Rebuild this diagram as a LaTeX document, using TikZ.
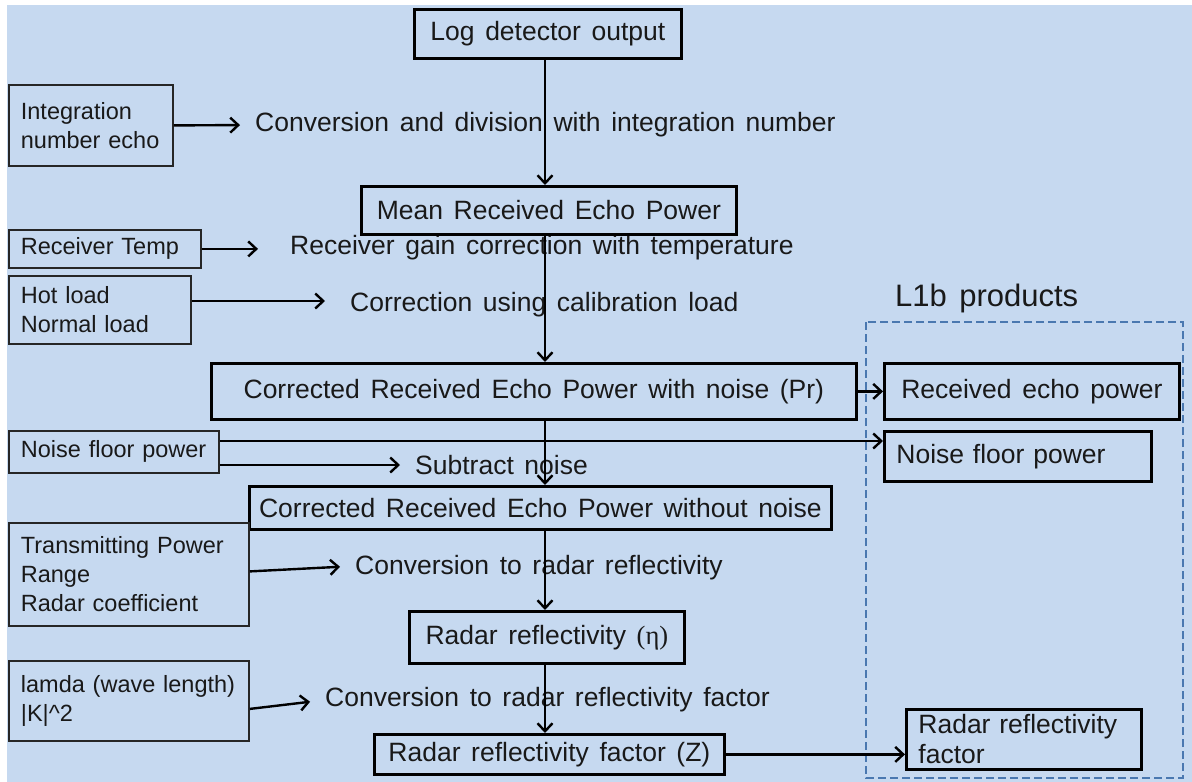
\documentclass[tikz,border=0pt]{standalone}
\usepackage{fontspec}
\setmainfont{Liberation Sans}
\newfontfamily\serifgreek{Liberation Serif}
\usetikzlibrary{arrows.meta,calc}
\definecolor{bgblue}{HTML}{C6D9F0}
\definecolor{dashblue}{HTML}{4A78B0}
\newcommand\bigtxt{\fontsize{26.5}{31}\selectfont\spaceskip=0.4em\relax}
\newcommand\rzftxt{\fontsize{26.5}{30}\selectfont\spaceskip=0.4em\relax}
\newcommand\smalltxt{\fontsize{23.5}{29}\selectfont\spaceskip=0.35em\relax}
\newcommand\titletxt{\fontsize{31}{36}\selectfont\spaceskip=0.4em\relax}
\tikzset{
  box/.style={draw=black, line width=2.8pt, inner sep=0pt, anchor=north west, font=\bigtxt, text=black!90},
  lbox/.style={draw=black!85, line width=1.8pt, inner xsep=12pt, inner ysep=0pt, anchor=north west, align=left, font=\smalltxt, text=black!90},
  lbl/.style={inner sep=0pt, anchor=west, font=\bigtxt, text=black!90},
  arr/.style={line width=2.4pt, -{Straight Barb[length=8pt,width=15pt,line width=2.4pt]}},
}
\begin{document}
\begin{tikzpicture}[x=1pt,y=-1pt]
\useasboundingbox (0,0) rectangle (1192,782);
\fill[white] (0,0) rectangle (1192,782);
\fill[bgblue] (7,5) rectangle (1192,782);
% labels
\node[lbl] (conv1) at (255,125) {Conversion and division with integration number};
\node[lbl] (rgain) at (290,248) {Receiver gain correction with temperature};
\node[lbl] (corr) at (350,305) {Correction using calibration load};
\node[lbl, font=\titletxt] (l1b) at (895,298) {L1b products};
\node[lbl] (sub) at (415,465) {Subtract noise};
\node[lbl] (conv2) at (355,568) {Conversion to radar reflectivity};
\node[lbl] (conv3) at (325,700) {Conversion to radar reflectivity factor};
% dashed group
\draw[dashblue, line width=2pt, dash pattern=on 8pt off 4pt] (866,322) rectangle (1183,778);
% main boxes
\node[box, minimum width=267, minimum height=49] (log) at (413,8) {Log detector output};
\node[box, minimum width=375, minimum height=48] (mean) at (360,185) {Mean Received Echo Power};
\node[box, minimum width=645, minimum height=56] (pr) at (210,362) {Corrected Received Echo Power with noise (Pr)};
\node[box, minimum width=295, minimum height=56] (rec) at (883,362) {Received echo power};
\node[box, minimum width=267, minimum height=50, text width=243, align=left] (noiser) at (883,430) {Noise floor power};
\node[box, minimum width=582, minimum height=43] (wo) at (248,485) {Corrected Received Echo Power without noise};
\node[box, minimum width=275, minimum height=52] (eta) at (408,610) {Radar reflectivity {\serifgreek (η)}};
\node[box, minimum width=350, minimum height=40] (z) at (373,733) {Radar reflectivity factor (Z)};
\node[box, minimum width=235, minimum height=60, text width=211, align=left, font=\rzftxt] (rzf) at (905,708) {Radar reflectivity\\factor};
% input boxes
\node[lbox, minimum width=164, minimum height=81, text width=140] (integ) at (8,84) {Integration\\number echo};
\node[lbox, minimum width=192, minimum height=38, text width=168] (rtemp) at (8,229) {Receiver Temp};
\node[lbox, minimum width=182, minimum height=68, text width=158] (hot) at (8,275) {Hot load\\Normal load};
\node[lbox, minimum width=210, minimum height=42, text width=186] (noisel) at (8,430) {Noise floor power};
\node[lbox, minimum width=240, minimum height=103, text width=216] (trans) at (8,522) {Transmitting Power\\Range\\Radar coefficient};
\node[lbox, minimum width=240, minimum height=80, text width=216] (lam) at (8,660) {lamda (wave length)\\|K|\^{}2};
% coordinates
\coordinate (fx) at (545,0);
\coordinate (ya) at (0,301);
\coordinate (ny) at (0,441);
\coordinate (ns) at (0,465);
% vertical flow
\draw[arr] (log.south -| fx) -- (mean.north -| fx);
\draw[arr] (mean.south -| fx) -- (pr.north -| fx);
\draw[arr] (pr.south -| fx) -- (wo.north -| fx);
\draw[arr] (wo.south -| fx) -- (eta.north -| fx);
\draw[arr] (eta.south -| fx) -- (z.north -| fx);
% inputs
\draw[arr, shorten >=15pt] (integ.east) -- (conv1.west);
\draw[arr, shorten >=32pt] (rtemp.east) -- (rgain.west |- rtemp.east);
\draw[arr, shorten >=25pt] (hot.east |- ya) -- (corr.west |- ya);
\draw[arr] (noisel.east |- ny) -- (noiser.west |- ny);
\draw[arr, shorten >=15pt] (noisel.east |- ns) -- (sub.west |- ns);
\draw[arr, shorten >=15pt] ($(trans.east)+(0,-3)$) -- ($(conv2.west)+(0,-2)$);
\draw[arr, shorten >=15pt] ($(lam.east)+(0,8)$) -- (conv3.west);
% outputs
\draw[arr] (pr.east) -- (rec.west);
\draw[arr] (z.east) -- (rzf.west |- z.east);
\end{tikzpicture}
\end{document}
